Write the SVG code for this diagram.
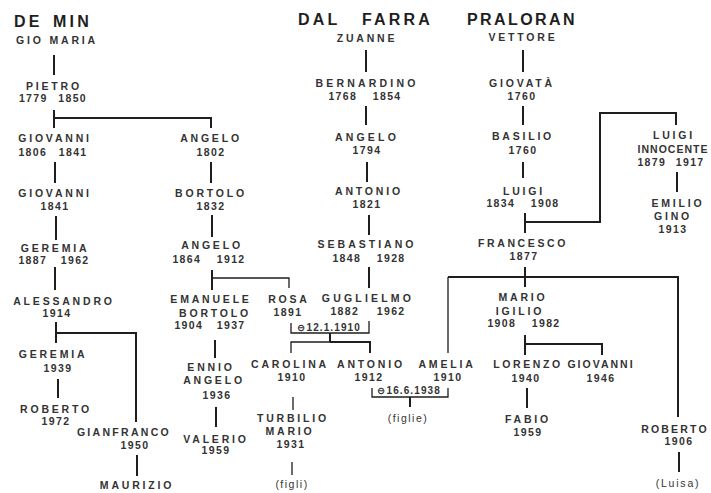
<svg xmlns="http://www.w3.org/2000/svg" width="711" height="493" viewBox="0 0 711 493">
<style>
text{font-family:"Liberation Sans","DejaVu Sans",sans-serif;font-weight:bold;fill:#333}
.n{font-size:10.5px;letter-spacing:2.8px;text-anchor:middle}
.y{font-size:10.5px;letter-spacing:1.4px;word-spacing:11px;text-anchor:middle}
.t{font-size:16px;letter-spacing:3.2px;fill:#1e1e1e}
.m{font-size:10px;letter-spacing:1.1px}
.c path{stroke:#1e1e1e;stroke-width:2;fill:none}
.c path.th{stroke-width:1.3}
</style>
<rect width="711" height="493" fill="#fff"/>
<g class="c" id="connectors">
<path d="M54 55V75"/>
<path d="M54 110V128M54 118H211V128"/>
<path d="M55 162V183M211 162V183"/>
<path d="M56 216V240"/>
<path d="M55 267V290"/>
<path d="M56 322V343M56 333H136V422"/>
<path d="M58 379V398"/>
<path d="M137 455V476"/>
<path d="M212 215V237"/>
<path d="M212 270V290"/>
<path class="th" d="M212 278H289V288"/>
<path d="M215 340V358"/>
<path d="M216 407V427"/>
<path d="M366 50V72M366 106V125M367 162V182M369 215V235M369 267V288"/>
<path class="th" d="M291 323V333H369V321"/>
<path d="M330 333V342"/>
<path class="th" d="M291 353V342H330"/>
<path d="M330 342H370V353"/>
<path class="th" d="M293 397V410M292 462V475"/>
<path class="th" d="M372 388V397H448V388"/>
<path d="M410 397V407"/>
<path d="M523 50V72M523 106V125M523 162V178"/>
<path d="M525 213V233M525 222H600V113H676V125"/>
<path d="M677 172V192"/>
<path d="M525 267V287"/>
<path class="th" d="M448 353V277"/>
<path d="M448 277H678V417"/>
<path d="M525 335V355M525 344H602V355"/>
<path d="M527 388V408"/>
<path d="M679 452V472"/>
</g>
<g id="h-demin"><text class="t" x="14" y="27">DE</text><text class="t" x="53" y="27">MIN</text></g>
<g id="h-dalfarra"><text class="t" x="298" y="25">DAL</text><text class="t" x="362" y="25">FARRA</text></g>
<g id="h-praloran"><text class="t" x="467" y="25" style="letter-spacing:2.4px">PRALORAN</text></g>
<g id="gio-maria"><text class="n" x="57" y="44">GIO MARIA</text></g>
<g id="pietro"><text class="n" x="54" y="90">PIETRO</text><text class="y" x="53" y="102" style="word-spacing:6px">1779 1850</text></g>
<g id="giovanni-1806"><text class="n" x="55" y="142">GIOVANNI</text><text class="y" x="53" y="156" style="word-spacing:7px">1806 1841</text></g>
<g id="angelo-1802"><text class="n" x="211" y="142">ANGELO</text><text class="y" x="211" y="156">1802</text></g>
<g id="giovanni-1841"><text class="n" x="55" y="197">GIOVANNI</text><text class="y" x="55" y="210">1841</text></g>
<g id="geremia-1887"><text class="n" x="55" y="252">GEREMIA</text><text class="y" x="54" y="264" style="word-spacing:9px">1887 1962</text></g>
<g id="alessandro"><text class="n" x="64" y="305">ALESSANDRO</text><text class="y" x="57" y="317">1914</text></g>
<g id="geremia-1939"><text class="n" x="53" y="358">GEREMIA</text><text class="y" x="58" y="372">1939</text></g>
<g id="roberto-1972"><text class="n" x="56" y="413">ROBERTO</text><text class="y" x="56" y="425">1972</text></g>
<g id="gianfranco"><text class="n" x="124" y="436" style="letter-spacing:2.3px">GIANFRANCO</text><text class="y" x="135" y="449">1950</text></g>
<g id="maurizio"><text class="n" x="137" y="489">MAURIZIO</text></g>
<g id="bortolo-1832"><text class="n" x="211" y="197">BORTOLO</text><text class="y" x="211" y="210">1832</text></g>
<g id="angelo-1864"><text class="n" x="212" y="249">ANGELO</text><text class="y" x="209" y="263">1864 1912</text></g>
<g id="emanuele"><text class="n" x="211" y="303">EMANUELE</text><text class="n" x="215" y="317">BORTOLO</text><text class="y" x="210" y="329" style="word-spacing:9px">1904 1937</text></g>
<g id="rosa"><text class="n" x="289" y="303">ROSA</text><text class="y" x="288" y="316">1891</text></g>
<g id="ennio"><text class="n" x="211" y="371">ENNIO</text><text class="n" x="214" y="384">ANGELO</text><text class="y" x="217" y="399">1936</text></g>
<g id="valerio"><text class="n" x="216" y="443">VALERIO</text><text class="y" x="216" y="454">1959</text></g>
<g id="zuanne"><text class="n" x="367" y="42">ZUANNE</text></g>
<g id="bernardino"><text class="n" x="367" y="87" style="letter-spacing:3.2px">BERNARDINO</text><text class="y" x="365" y="100">1768 1854</text></g>
<g id="angelo-1794"><text class="n" x="367" y="141" style="letter-spacing:3.2px">ANGELO</text><text class="y" x="367" y="154">1794</text></g>
<g id="antonio-1821"><text class="n" x="369" y="195">ANTONIO</text><text class="y" x="367" y="208">1821</text></g>
<g id="sebastiano"><text class="n" x="367" y="248" style="letter-spacing:3px">SEBASTIANO</text><text class="y" x="369" y="262">1848 1928</text></g>
<g id="guglielmo"><text class="n" x="368" y="302" style="letter-spacing:3.2px">GUGLIELMO</text><text class="y" x="368" y="315" style="word-spacing:13px">1882 1962</text></g>
<g id="marriage-1910"><text class="m" x="297" y="331">⊖12.1.1910</text></g>
<g id="carolina"><text class="n" x="290" y="368">CAROLINA</text><text class="y" x="292" y="381">1910</text></g>
<g id="antonio-1912"><text class="n" x="371" y="368">ANTONIO</text><text class="y" x="369" y="381">1912</text></g>
<g id="amelia"><text class="n" x="447" y="368">AMELIA</text><text class="y" x="448" y="381">1910</text></g>
<g id="marriage-1938"><text class="m" x="377" y="394">⊖16.6.1938</text></g>
<g id="figlie"><text class="n" x="408" y="422" style="letter-spacing:1.5px;font-weight:normal">(figlie)</text></g>
<g id="turbilio"><text class="n" x="293" y="422">TURBILIO</text><text class="n" x="290" y="435">MARIO</text><text class="y" x="291" y="448">1931</text></g>
<g id="figli"><text class="n" x="292" y="488" style="letter-spacing:1.5px;font-weight:normal">(figli)</text></g>
<g id="vettore"><text class="n" x="523" y="41">VETTORE</text></g>
<g id="giovata"><text class="n" x="522" y="87">GIOVATÀ</text><text class="y" x="522" y="100">1760</text></g>
<g id="basilio"><text class="n" x="523" y="140">BASILIO</text><text class="y" x="523" y="154">1760</text></g>
<g id="luigi-1834"><text class="n" x="524" y="195">LUIGI</text><text class="y" x="523" y="207">1834 1908</text></g>
<g id="luigi-innocente"><text class="n" x="674" y="139">LUIGI</text><text class="n" x="673" y="153" style="letter-spacing:1px">INNOCENTE</text><text class="y" x="671" y="166" style="word-spacing:5px">1879 1917</text></g>
<g id="emilio"><text class="n" x="678" y="207">EMILIO</text><text class="n" x="673" y="220">GINO</text><text class="y" x="673" y="233">1913</text></g>
<g id="francesco"><text class="n" x="523" y="247" style="letter-spacing:2.6px">FRANCESCO</text><text class="y" x="524" y="260">1877</text></g>
<g id="mario"><text class="n" x="523" y="301">MARIO</text><text class="n" x="520" y="315">IGILIO</text><text class="y" x="524" y="327">1908 1982</text></g>
<g id="lorenzo"><text class="n" x="528" y="368" style="letter-spacing:2.6px">LORENZO</text><text class="y" x="526" y="382">1940</text></g>
<g id="giovanni-1946"><text class="n" x="601" y="368" style="letter-spacing:2px">GIOVANNI</text><text class="y" x="601" y="382">1946</text></g>
<g id="fabio"><text class="n" x="528" y="423">FABIO</text><text class="y" x="528" y="436">1959</text></g>
<g id="roberto-1906"><text class="n" x="675" y="433" style="letter-spacing:2.2px">ROBERTO</text><text class="y" x="679" y="445">1906</text></g>
<g id="luisa"><text class="n" x="678" y="487" style="letter-spacing:1.8px;font-weight:normal">(Luisa)</text></g>
</svg>
